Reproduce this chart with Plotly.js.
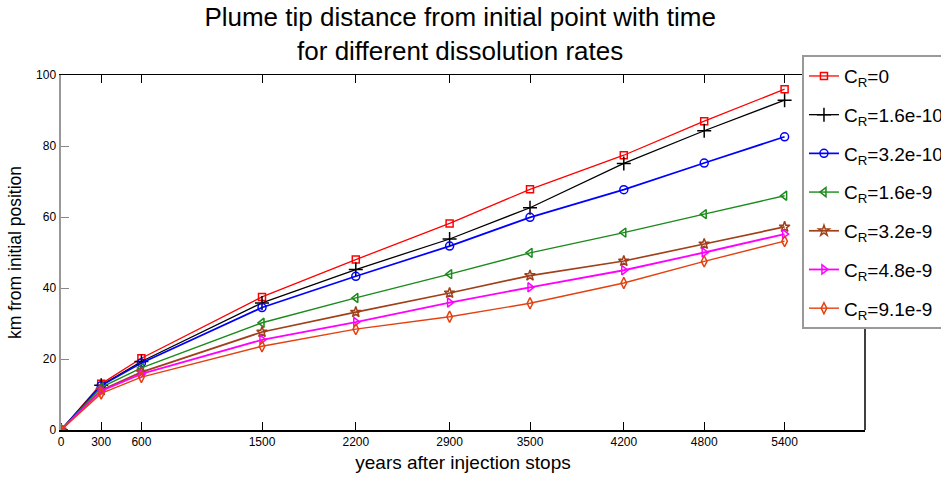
<!DOCTYPE html>
<html>
<head>
<meta charset="utf-8">
<script src="https://cdn.plot.ly/plotly-3.0.1.min.js"></script>
<style>html,body{margin:0;padding:0;background:#fff;overflow:hidden}#plot{width:941px;height:481px}</style>
</head>
<body>
<div id="plot"></div>
<script>
const years = [0, 300, 600, 1500, 2200, 2900, 3500, 4200, 4800, 5400];
const tickLabels = ['0','300','600','1500','2200','2900','3500','4200','4800','5400'];
const seriesNames = ['C<sub>R</sub>=0','C<sub>R</sub>=1.6e-10','C<sub>R</sub>=3.2e-10','C<sub>R</sub>=1.6e-9','C<sub>R</sub>=3.2e-9','C<sub>R</sub>=4.8e-9','C<sub>R</sub>=9.1e-9'];
const cr0      = [0, 13.0, 20.2, 37.5, 48.0, 58.2, 67.8, 77.4, 87.0, 96.0];
const cr16e10  = [0, 12.6, 19.3, 35.8, 45.2, 53.8, 62.6, 75.1, 84.3, 92.9];
const cr32e10  = [0, 12.5, 18.9, 34.5, 43.3, 51.8, 59.9, 67.7, 75.2, 82.6];
const cr16e9   = [0, 12.0, 17.5, 30.2, 37.2, 43.9, 49.9, 55.6, 60.8, 66.0];
const cr32e9   = [0, 11.2, 16.3, 27.6, 33.2, 38.6, 43.5, 47.6, 52.4, 57.2];
const cr48e9   = [0, 11.0, 15.8, 25.4, 30.4, 35.9, 40.2, 45.0, 50.0, 55.2];
const cr91e9   = [0, 10.3, 14.9, 23.6, 28.4, 31.9, 35.7, 41.4, 47.5, 53.2];
const allSeries = [cr0, cr16e10, cr32e10, cr16e9, cr32e9, cr48e9, cr91e9];

const colors = ['#ff0000','#000000','#0000ff','#1a8a1a','#a0401a','#ff00ff','#e5400f'];
const symbols = ['square-open','cross-thin-open','circle-open','triangle-left-open','star-open','triangle-right-open','diamond-tall-open'];
const widths = [1.3,1.3,1.7,1.4,1.7,1.8,1.4];
const msizes = [7,10,8,8,8,8,8];

const FONT = '"Liberation Sans", Arial, sans-serif';

const traces = allSeries.map((ys, i) => ({
  x: years, y: ys, type: 'scatter', mode: 'lines+markers',
  name: seriesNames[i], legendgroup: 'g' + i,
  line: {color: colors[i], width: widths[i]},
  marker: {symbol: symbols[i], size: msizes[i], color: colors[i], line: {color: colors[i], width: 1.5}}
}));

const layout = {
  width: 941, height: 481,
  margin: {l: 61, r: 76, t: 75, b: 51, autoexpand: false},
  paper_bgcolor: '#fff', plot_bgcolor: '#fff',
  font: {family: FONT, color: '#000'},
  title: {text: 'Plume tip distance from initial point with time<br>for different dissolution rates',
          x: 0.489, xref: 'container', y: 0.945, yref: 'container', yanchor: 'middle',
          font: {size: 26, family: FONT}},
  xaxis: {range: [0, 6000], tickvals: years, ticktext: tickLabels, ticks: 'inside', ticklen: 8,
          tickcolor: '#000', showline: true, linecolor: '#000', linewidth: 1.5, mirror: 'ticks',
          showgrid: false, zeroline: false, tickfont: {size: 12, family: FONT},
          title: {text: 'years after injection stops', font: {size: 19, family: FONT}, standoff: 8}},
  yaxis: {range: [0, 100], tickvals: [0,20,40,60,80,100], ticks: 'inside', ticklen: 8,
          tickcolor: '#888', showline: true, linecolor: '#999', linewidth: 2.5, mirror: false,
          showgrid: false, zeroline: false, tickfont: {size: 12, family: FONT},
          title: {text: 'km from initial position', font: {size: 17.5, family: FONT}, standoff: 10}},
  shapes: [
    {type: 'line', xref: 'paper', yref: 'paper', x0: 1, x1: 1, y0: 0, y1: 1, line: {color: '#000', width: 1.5}}
  ],
  legend: {x: 0.9216, y: 1.056, xanchor: 'left', yanchor: 'top', bgcolor: '#fff',
           bordercolor: '#999', borderwidth: 2, font: {size: 19, family: FONT},
           itemwidth: 30, tracegroupgap: 11, maxheight: 460},
  showlegend: true
};

Plotly.newPlot('plot', traces, layout, {displayModeBar: false, staticPlot: true});
</script>
</body>
</html>
